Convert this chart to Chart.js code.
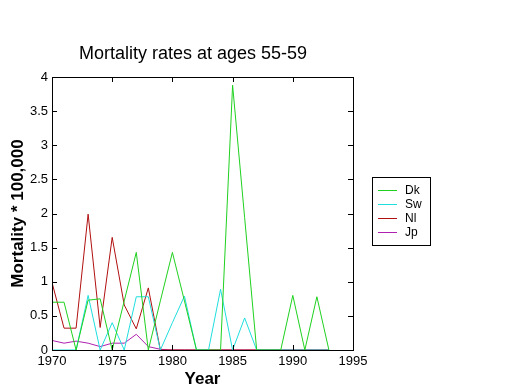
<!DOCTYPE html>
<html>
<head>
<meta charset="utf-8">
<script src="https://cdn.jsdelivr.net/npm/chart.js@4/dist/chart.umd.min.js"></script>
<style>
  html, body { margin: 0; padding: 0; background: #fff; }
  #wrap { width: 520px; height: 390px; }
</style>
</head>
<body>
<div id="wrap"><canvas id="chart" width="520" height="390"></canvas></div>
<script>
(function () {
    'use strict';

    var years = [1970, 1971, 1972, 1973, 1974, 1975, 1976, 1977, 1978, 1979, 1980, 1981,
                 1982, 1983, 1984, 1985, 1986, 1987, 1988, 1989, 1990, 1991, 1992, 1993];
    var dk = [0.70, 0.70, 0, 0.73, 0.75, 0, 0.72, 1.43, 0, 0.72, 1.43, 0.72,
              0, 0, 0, 3.88, 1.94, 0, 0, 0, 0.80, 0, 0.78, 0];
    var sw = [0, 0, 0, 0.80, 0, 0.40, 0, 0.78, 0.78, 0, 0.40, 0.79,
              0, 0, 0.89, 0, 0.47, 0, 0, 0, 0, 0, 0, 0];
    var nl = [0.99, 0.32, 0.32, 1.99, 0.33, 1.65, 0.66, 0.31, 0.91, 0, 0, 0,
              0, 0, 0, 0, 0, 0, 0, 0, 0, 0, 0, 0];
    var jp = [0.14, 0.10, 0.13, 0.10, 0.05, 0.10, 0.10, 0.23, 0.05, 0.01, 0, 0,
              0, 0, 0, 0, 0, 0, 0, 0, 0, 0, 0, 0];
    var xTicks = [1970, 1975, 1980, 1985, 1990, 1995];
    var yTicks = [0, 0.5, 1, 1.5, 2, 2.5, 3, 3.5, 4];

    var FONT = 'Liberation Sans, Arial, sans-serif';

    var pts = function (vals) {
        return vals.map(function (v, i) { return { x: years[i], y: v }; });
    };
    var ds = function (label, vals, color) {
        return { label: label, data: pts(vals), borderColor: color, backgroundColor: color,
                 borderWidth: 1, pointRadius: 0, tension: 0, fill: false };
    };

    // box, inward ticks, title and boxed legend (matlab look)
    var decor = {
        id: 'decor',
        afterDraw: function (chart) {
            var c = chart.ctx, a = chart.chartArea;
            var xs = chart.scales.x, ys = chart.scales.y;
            c.save();
            c.strokeStyle = '#000';
            c.lineWidth = 1;
            c.strokeRect(a.left + 0.5, a.top + 0.5, a.right - a.left, a.bottom - a.top);
            c.beginPath();
            xTicks.forEach(function (t) {
                var px = Math.round(xs.getPixelForValue(t)) + 0.5;
                c.moveTo(px, a.bottom); c.lineTo(px, a.bottom - 5);
                c.moveTo(px, a.top); c.lineTo(px, a.top + 5);
            });
            yTicks.forEach(function (t) {
                var py = Math.round(ys.getPixelForValue(t)) + 0.5;
                c.moveTo(a.left, py); c.lineTo(a.left + 5, py);
                c.moveTo(a.right, py); c.lineTo(a.right - 5, py);
            });
            c.stroke();

            c.fillStyle = '#000';
            c.font = '18px ' + FONT;
            c.textAlign = 'center';
            c.textBaseline = 'middle';
            c.fillText('Mortality rates at ages 55-59', 193, 54);

            c.strokeRect(372.5, 177.5, 58, 68);
            c.font = '12px ' + FONT;
            c.textAlign = 'left';
            chart.data.datasets.forEach(function (d, i) {
                var y = 190 + i * 14;
                c.strokeStyle = d.borderColor;
                c.beginPath();
                c.moveTo(378, y + 0.5); c.lineTo(397, y + 0.5);
                c.stroke();
                c.fillText(d.label, 405, y + 1);
            });
            c.restore();
        }
    };

    var el = document.getElementById('chart');
    new Chart(el, {
        type: 'line',
        data: {
            datasets: [
                ds('Dk', dk, '#1fd11f'),
                ds('Sw', sw, '#1fdede'),
                ds('Nl', nl, '#b01010'),
                ds('Jp', jp, '#b020b0')
            ]
        },
        options: {
            responsive: false,
            animation: false,
            layout: { padding: { left: 0, right: 167, top: 77, bottom: 0 } },
            plugins: { legend: { display: false }, title: { display: false }, tooltip: { enabled: false } },
            scales: {
                x: {
                    type: 'linear', min: 1970, max: 1995,
                    afterBuildTicks: function (s) { s.ticks = xTicks.map(function (v) { return { value: v }; }); },
                    afterFit: function (s) { s.height = 40; },
                    grid: { display: false, drawTicks: false },
                    border: { display: false },
                    ticks: { padding: 4, color: '#000', font: { family: FONT, size: 13 }, maxRotation: 0,
                             callback: function (v) { return String(v); } },
                    title: { display: true, text: 'Year', color: '#000', padding: { top: 0, bottom: 0 },
                             font: { family: FONT, size: 17, weight: 'bold' } }
                },
                y: {
                    min: 0, max: 4,
                    afterBuildTicks: function (s) { s.ticks = yTicks.map(function (v) { return { value: v }; }); },
                    afterFit: function (s) { s.width = 52; },
                    grid: { display: false, drawTicks: false },
                    border: { display: false },
                    ticks: { padding: 4, color: '#000', font: { family: FONT, size: 13 },
                             callback: function (v) { return String(v); } },
                    title: { display: true, text: 'Mortality * 100,000', color: '#000', padding: { top: 8, bottom: 0 },
                             font: { family: FONT, size: 17, weight: 'bold' } }
                }
            }
        },
        plugins: [decor]
    });
})();
</script>
</body>
</html>
